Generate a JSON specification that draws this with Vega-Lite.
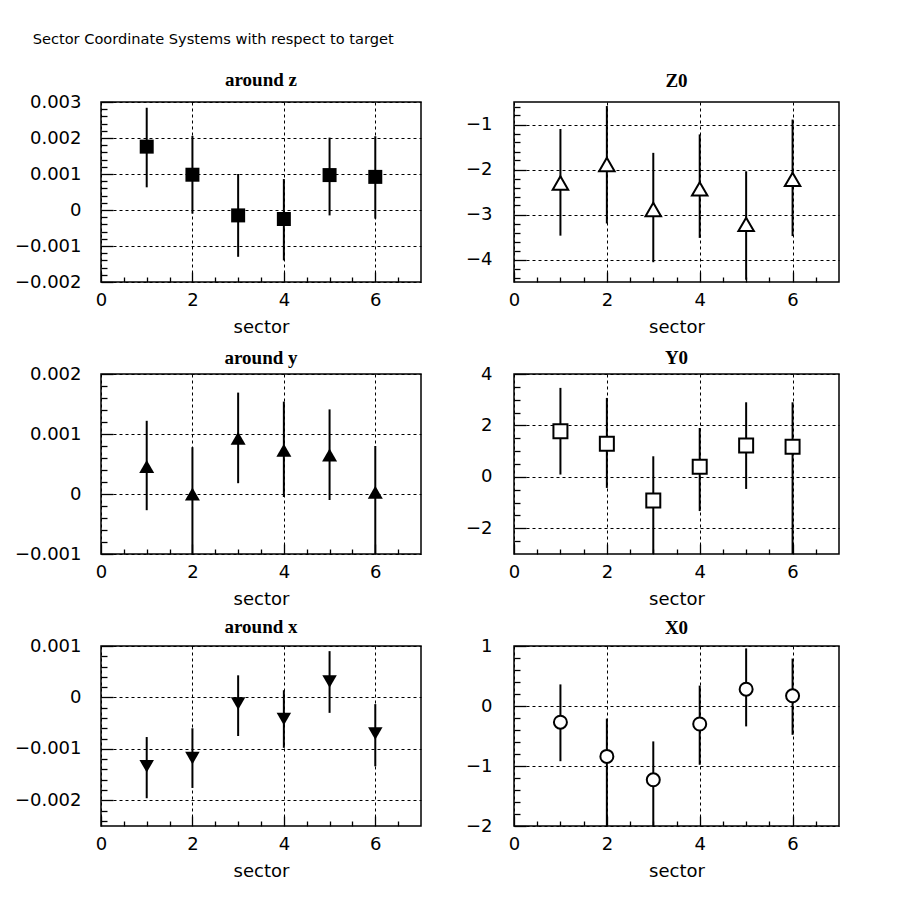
{
  "$schema": "https://vega.github.io/schema/vega-lite/v6.json",
  "padding": {"left": 13, "top": 31, "right": 10, "bottom": 10},
  "background": "white",
  "title": {"text": "Sector Coordinate Systems with respect to target", "anchor": "start", "frame": "bounds", "font": "DejaVu Sans", "fontSize": 14.6, "fontWeight": "normal", "color": "black", "dx": 19, "offset": 24},
  "bounds": "flush",
  "columns": 2,
  "spacing": {"row": 92, "column": 93},
  "concat": [
        {
          "width": 320, "height": 180,
          "title": {"text": "around z", "dy": 7},
          "data": {"values": [
            {"sector": 1, "value": 0.00176, "lo": 0.00063, "hi": 0.00284},
            {"sector": 2, "value": 0.00098, "lo": -0.0001, "hi": 0.00206},
            {"sector": 3, "value": -0.00015, "lo": -0.0013, "hi": 0.001},
            {"sector": 4, "value": -0.00025, "lo": -0.0014, "hi": 0.00086},
            {"sector": 5, "value": 0.00097, "lo": -0.00015, "hi": 0.00201},
            {"sector": 6, "value": 0.00092, "lo": -0.00024, "hi": 0.00205}
          ]},
          "layer": [
            {"mark": {"type": "rule", "color": "black", "strokeWidth": 2, "clip": true},
             "encoding": {
               "x": {"field": "sector", "type": "quantitative", "scale": {"domain": [0, 7], "nice": false}, "axis": {"orient": "bottom", "values": [0, 2, 4, 6], "format": "d", "title": "sector", "grid": true, "tickSize": -10, "labelPadding": 19, "titlePadding": 9}},
               "y": {"field": "lo", "type": "quantitative", "scale": {"domain": [-0.002, 0.003], "nice": false, "zero": false}, "axis": {"orient": "left", "values": [-0.002, -0.001, 0, 0.001, 0.002, 0.003], "format": ".3~f", "title": null, "grid": true, "tickSize": -12, "labelPadding": 32}},
               "y2": {"field": "hi"}
             }},
            {"mark": {"type": "point", "shape": "square", "filled": true, "color": "black", "size": 196, "opacity": 1},
             "encoding": {
               "x": {"field": "sector", "type": "quantitative", "axis": {"orient": "bottom", "values": [0.5, 1, 1.5, 2.5, 3, 3.5, 4.5, 5, 5.5, 6.5], "labels": false, "grid": false, "tickSize": -5, "title": null}},
               "y": {"field": "value", "type": "quantitative", "axis": {"orient": "left", "values": [-0.0018, -0.0016, -0.0014, -0.0012, -0.0008, -0.0006, -0.0004, -0.0002, 0.0002, 0.0004, 0.0006, 0.0008, 0.0012, 0.0014, 0.0016, 0.0018, 0.0022, 0.0024, 0.0026, 0.0028], "labels": false, "grid": false, "tickSize": -6, "title": null}}
             }}
          ],
          "resolve": {"axis": {"x": "independent", "y": "independent"}}
        },
        {
          "width": 325, "height": 180,
          "title": {"text": "Z0", "dy": -1},
          "data": {"values": [
            {"sector": 1, "value": -2.3, "lo": -3.47, "hi": -1.1},
            {"sector": 2, "value": -1.89, "lo": -3.2, "hi": -0.59},
            {"sector": 3, "value": -2.89, "lo": -4.06, "hi": -1.63},
            {"sector": 4, "value": -2.43, "lo": -3.52, "hi": -1.22},
            {"sector": 5, "value": -3.22, "lo": -4.45, "hi": -2.04},
            {"sector": 6, "value": -2.22, "lo": -3.48, "hi": -0.89}
          ]},
          "layer": [
            {"mark": {"type": "rule", "color": "black", "strokeWidth": 2, "clip": true},
             "encoding": {
               "x": {"field": "sector", "type": "quantitative", "scale": {"domain": [0, 7], "nice": false}, "axis": {"orient": "bottom", "values": [0, 2, 4, 6], "format": "d", "title": "sector", "grid": true, "tickSize": -10, "labelPadding": 19, "titlePadding": 9}},
               "y": {"field": "lo", "type": "quantitative", "scale": {"domain": [-4.5, -0.5], "nice": false, "zero": false}, "axis": {"orient": "left", "values": [-4, -3, -2, -1], "format": "d", "title": null, "grid": true, "tickSize": -12, "labelPadding": 34}},
               "y2": {"field": "hi"}
             }},
            {"mark": {"type": "point", "shape": "triangle-up", "filled": true, "fill": "white", "stroke": "black", "strokeWidth": 2, "size": 240, "opacity": 1},
             "encoding": {
               "x": {"field": "sector", "type": "quantitative", "axis": {"orient": "bottom", "values": [0.5, 1, 1.5, 2.5, 3, 3.5, 4.5, 5, 5.5, 6.5], "labels": false, "grid": false, "tickSize": -5, "title": null}},
               "y": {"field": "value", "type": "quantitative", "axis": {"orient": "left", "values": [-4.4, -4.2, -3.8, -3.6, -3.4, -3.2, -2.8, -2.6, -2.4, -2.2, -1.8, -1.6, -1.4, -1.2, -0.8, -0.6], "labels": false, "grid": false, "tickSize": -6, "title": null}}
             }}
          ],
          "resolve": {"axis": {"x": "independent", "y": "independent"}}
        },
        {
          "width": 320, "height": 180,
          "title": {"text": "around y", "dy": 13},
          "data": {"values": [
            {"sector": 1, "value": 0.00046, "lo": -0.00027, "hi": 0.00122},
            {"sector": 2, "value": 0.0, "lo": -0.001, "hi": 0.00078},
            {"sector": 3, "value": 0.00093, "lo": 0.00018, "hi": 0.00169},
            {"sector": 4, "value": 0.00073, "lo": -0.00005, "hi": 0.00154},
            {"sector": 5, "value": 0.00065, "lo": -0.0001, "hi": 0.00141},
            {"sector": 6, "value": 0.00003, "lo": -0.001, "hi": 0.0008}
          ]},
          "layer": [
            {"mark": {"type": "rule", "color": "black", "strokeWidth": 2, "clip": true},
             "encoding": {
               "x": {"field": "sector", "type": "quantitative", "scale": {"domain": [0, 7], "nice": false}, "axis": {"orient": "bottom", "values": [0, 2, 4, 6], "format": "d", "title": "sector", "grid": true, "tickSize": -10, "labelPadding": 19, "titlePadding": 9}},
               "y": {"field": "lo", "type": "quantitative", "scale": {"domain": [-0.001, 0.002], "nice": false, "zero": false}, "axis": {"orient": "left", "values": [-0.001, 0, 0.001, 0.002], "format": ".3~f", "title": null, "grid": true, "tickSize": -12, "labelPadding": 32}},
               "y2": {"field": "hi"}
             }},
            {"mark": {"type": "point", "shape": "triangle-up", "filled": true, "color": "black", "size": 225, "opacity": 1},
             "encoding": {
               "x": {"field": "sector", "type": "quantitative", "axis": {"orient": "bottom", "values": [0.5, 1, 1.5, 2.5, 3, 3.5, 4.5, 5, 5.5, 6.5], "labels": false, "grid": false, "tickSize": -5, "title": null}},
               "y": {"field": "value", "type": "quantitative", "axis": {"orient": "left", "values": [-0.0008, -0.0006, -0.0004, -0.0002, 0.0002, 0.0004, 0.0006, 0.0008, 0.0012, 0.0014, 0.0016, 0.0018], "labels": false, "grid": false, "tickSize": -6, "title": null}}
             }}
          ],
          "resolve": {"axis": {"x": "independent", "y": "independent"}}
        },
        {
          "width": 325, "height": 180,
          "title": {"text": "Y0", "dy": 13},
          "data": {"values": [
            {"sector": 1, "value": 1.77, "lo": 0.09, "hi": 3.46},
            {"sector": 2, "value": 1.29, "lo": -0.43, "hi": 3.07},
            {"sector": 3, "value": -0.92, "lo": -3, "hi": 0.8},
            {"sector": 4, "value": 0.39, "lo": -1.33, "hi": 1.9},
            {"sector": 5, "value": 1.22, "lo": -0.47, "hi": 2.9},
            {"sector": 6, "value": 1.17, "lo": -3, "hi": 2.9}
          ]},
          "layer": [
            {"mark": {"type": "rule", "color": "black", "strokeWidth": 2, "clip": true},
             "encoding": {
               "x": {"field": "sector", "type": "quantitative", "scale": {"domain": [0, 7], "nice": false}, "axis": {"orient": "bottom", "values": [0, 2, 4, 6], "format": "d", "title": "sector", "grid": true, "tickSize": -10, "labelPadding": 19, "titlePadding": 9}},
               "y": {"field": "lo", "type": "quantitative", "scale": {"domain": [-3, 4], "nice": false, "zero": false}, "axis": {"orient": "left", "values": [-2, 0, 2, 4], "format": "d", "title": null, "grid": true, "tickSize": -12, "labelPadding": 34}},
               "y2": {"field": "hi"}
             }},
            {"mark": {"type": "point", "shape": "square", "filled": true, "fill": "white", "stroke": "black", "strokeWidth": 2, "size": 196, "opacity": 1},
             "encoding": {
               "x": {"field": "sector", "type": "quantitative", "axis": {"orient": "bottom", "values": [0.5, 1, 1.5, 2.5, 3, 3.5, 4.5, 5, 5.5, 6.5], "labels": false, "grid": false, "tickSize": -5, "title": null}},
               "y": {"field": "value", "type": "quantitative", "axis": {"orient": "left", "values": [-2.5, -1.5, -1, -0.5, 0.5, 1, 1.5, 2.5, 3, 3.5], "labels": false, "grid": false, "tickSize": -6, "title": null}}
             }}
          ],
          "resolve": {"axis": {"x": "independent", "y": "independent"}}
        },
        {
          "width": 320, "height": 180,
          "title": {"text": "around x", "dy": 10},
          "data": {"values": [
            {"sector": 1, "value": -0.00134, "lo": -0.00196, "hi": -0.00077},
            {"sector": 2, "value": -0.00118, "lo": -0.00176, "hi": -0.0006},
            {"sector": 3, "value": -0.00012, "lo": -0.00075, "hi": 0.00043},
            {"sector": 4, "value": -0.00042, "lo": -0.00098, "hi": 0.00014},
            {"sector": 5, "value": 0.00031, "lo": -0.0003, "hi": 0.0009},
            {"sector": 6, "value": -0.0007, "lo": -0.00134, "hi": -0.00013}
          ]},
          "layer": [
            {"mark": {"type": "rule", "color": "black", "strokeWidth": 2, "clip": true},
             "encoding": {
               "x": {"field": "sector", "type": "quantitative", "scale": {"domain": [0, 7], "nice": false}, "axis": {"orient": "bottom", "values": [0, 2, 4, 6], "format": "d", "title": "sector", "grid": true, "tickSize": -10, "labelPadding": 19, "titlePadding": 9}},
               "y": {"field": "lo", "type": "quantitative", "scale": {"domain": [-0.0025, 0.001], "nice": false, "zero": false}, "axis": {"orient": "left", "values": [-0.002, -0.001, 0, 0.001], "format": ".3~f", "title": null, "grid": true, "tickSize": -12, "labelPadding": 32}},
               "y2": {"field": "hi"}
             }},
            {"mark": {"type": "point", "shape": "triangle-down", "filled": true, "color": "black", "size": 210, "opacity": 1},
             "encoding": {
               "x": {"field": "sector", "type": "quantitative", "axis": {"orient": "bottom", "values": [0.5, 1, 1.5, 2.5, 3, 3.5, 4.5, 5, 5.5, 6.5], "labels": false, "grid": false, "tickSize": -5, "title": null}},
               "y": {"field": "value", "type": "quantitative", "axis": {"orient": "left", "values": [-0.0024, -0.0022, -0.0018, -0.0016, -0.0014, -0.0012, -0.0008, -0.0006, -0.0004, -0.0002, 0.0002, 0.0004, 0.0006, 0.0008], "labels": false, "grid": false, "tickSize": -6, "title": null}}
             }}
          ],
          "resolve": {"axis": {"x": "independent", "y": "independent"}}
        },
        {
          "width": 325, "height": 180,
          "title": {"text": "X0", "dy": 11},
          "data": {"values": [
            {"sector": 1, "value": -0.27, "lo": -0.92, "hi": 0.36},
            {"sector": 2, "value": -0.84, "lo": -2, "hi": -0.21},
            {"sector": 3, "value": -1.23, "lo": -2, "hi": -0.59},
            {"sector": 4, "value": -0.3, "lo": -0.98, "hi": 0.34},
            {"sector": 5, "value": 0.28, "lo": -0.34, "hi": 0.96},
            {"sector": 6, "value": 0.17, "lo": -0.48, "hi": 0.79}
          ]},
          "layer": [
            {"mark": {"type": "rule", "color": "black", "strokeWidth": 2, "clip": true},
             "encoding": {
               "x": {"field": "sector", "type": "quantitative", "scale": {"domain": [0, 7], "nice": false}, "axis": {"orient": "bottom", "values": [0, 2, 4, 6], "format": "d", "title": "sector", "grid": true, "tickSize": -10, "labelPadding": 19, "titlePadding": 9}},
               "y": {"field": "lo", "type": "quantitative", "scale": {"domain": [-2, 1], "nice": false, "zero": false}, "axis": {"orient": "left", "values": [-2, -1, 0, 1], "format": "d", "title": null, "grid": true, "tickSize": -12, "labelPadding": 34}},
               "y2": {"field": "hi"}
             }},
            {"mark": {"type": "point", "shape": "circle", "filled": true, "fill": "white", "stroke": "black", "strokeWidth": 2, "size": 169, "opacity": 1},
             "encoding": {
               "x": {"field": "sector", "type": "quantitative", "axis": {"orient": "bottom", "values": [0.5, 1, 1.5, 2.5, 3, 3.5, 4.5, 5, 5.5, 6.5], "labels": false, "grid": false, "tickSize": -5, "title": null}},
               "y": {"field": "value", "type": "quantitative", "axis": {"orient": "left", "values": [-1.8, -1.6, -1.4, -1.2, -0.8, -0.6, -0.4, -0.2, 0.2, 0.4, 0.6, 0.8], "labels": false, "grid": false, "tickSize": -6, "title": null}}
             }}
          ],
          "resolve": {"axis": {"x": "independent", "y": "independent"}}
        }
  ],
  "config": {
    "view": {"stroke": "black", "strokeWidth": 1.5},
    "axis": {"labelFont": "DejaVu Sans", "labelFontSize": 18, "labelColor": "black", "titleFont": "DejaVu Sans", "titleFontSize": 18, "titleFontWeight": "normal", "titleColor": "black", "tickColor": "black", "tickWidth": 1.3, "domain": false, "gridColor": "black", "gridDash": [3, 3], "gridOpacity": 1, "gridWidth": 1, "labelFlush": false, "labelOverlap": false},
    "title": {"font": "Liberation Serif", "fontSize": 19, "fontWeight": "bold", "color": "black", "offset": 10}
  }
}
